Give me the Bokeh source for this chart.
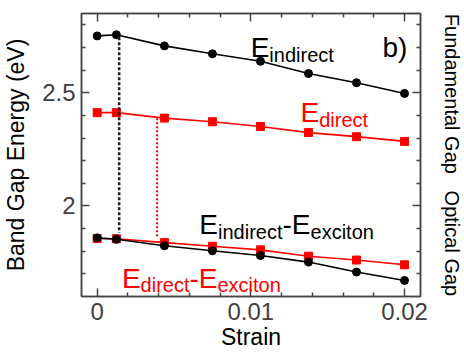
import math
from bokeh.plotting import figure
from bokeh.models import Range1d, LinearAxis, Label, FixedTicker
from bokeh.embed import file_html
from bokeh.resources import INLINE

# ---- data ----
strain = [0, 0.00125, 0.004375, 0.0075, 0.010625, 0.01375, 0.016875, 0.02]
e_indirect = [2.751, 2.756, 2.707, 2.672, 2.639, 2.585, 2.544, 2.497]
e_direct = [2.412, 2.412, 2.388, 2.372, 2.351, 2.324, 2.306, 2.285]
e_indirect_exc = [1.859, 1.853, 1.824, 1.802, 1.781, 1.752, 1.708, 1.671]
e_direct_exc = [1.856, 1.855, 1.838, 1.822, 1.806, 1.778, 1.761, 1.740]

dot_x = [0.00143, 0.0039]
dot_top = [2.745, 2.387]
dot_bottom = [1.882, 1.862]
dot_colors = ["#222222", "#ff0000"]

x_major = [0, 0.01, 0.02]
x_minor = [0.002, 0.004, 0.006, 0.008, 0.012, 0.014, 0.016, 0.018]
y_major = [2, 2.5]
y_minor = [1.7, 1.8, 1.9, 2.1, 2.2, 2.3, 2.4, 2.6, 2.7, 2.8]
x_labels = {0: "0", 0.01: "0.01", 0.02: "0.02"}
y_labels = {2: "2", 2.5: "2.5"}
right_titles = ["Fundamental Gap", "Optical Gap"]

FONT = "Liberation Sans"
AX = "#444444"

p = figure(width=464, height=356, frame_width=339, frame_height=283,
           output_backend="svg", toolbar_location=None,
           x_range=Range1d(-0.00102, 0.02104), y_range=Range1d(1.6, 2.85),
           min_border_left=79, min_border_right=46, min_border_top=13, min_border_bottom=60,
           x_axis_label="Strain", y_axis_label="Band Gap Energy (eV)")
p.grid.visible = False
p.outline_line_color = AX
p.outline_line_width = 1.5
p.background_fill_color = "white"
p.border_fill_color = "white"

def style_axis(ax, labels):
    ax.axis_line_color = AX
    ax.axis_line_width = 1.5
    ax.major_tick_line_color = AX
    ax.minor_tick_line_color = AX
    ax.major_tick_line_width = 1.5
    ax.minor_tick_line_width = 1.5
    ax.major_tick_in = 8
    ax.major_tick_out = 0
    ax.minor_tick_in = 4
    ax.minor_tick_out = 0
    ax.major_label_text_font = FONT
    ax.major_label_text_font_size = "24px"
    ax.major_label_text_color = "#404040"
    ax.axis_label_text_font = FONT
    ax.axis_label_text_font_size = "23px"
    ax.axis_label_text_font_style = "normal"
    ax.axis_label_text_color = "black"
    if labels is not None:
        ax.major_label_overrides = labels

p.xaxis.ticker = FixedTicker(ticks=x_major, minor_ticks=x_minor)
p.yaxis.ticker = FixedTicker(ticks=y_major, minor_ticks=y_minor)
for ax in p.xaxis:
    style_axis(ax, x_labels)
    ax.major_label_standoff = 6
    ax.axis_label_standoff = 1
for ax in p.yaxis:
    style_axis(ax, y_labels)
    ax.major_label_standoff = 6
    ax.axis_label_standoff = 10

top = LinearAxis(ticker=FixedTicker(ticks=x_major, minor_ticks=x_minor))
right = LinearAxis(ticker=FixedTicker(ticks=y_major, minor_ticks=y_minor),
                   axis_label=("\u00a0" * 3).join(right_titles))
for ax in (top, right):
    style_axis(ax, None)
    ax.major_label_text_font_size = "0px"
    ax.major_label_text_color = None
    ax.major_label_standoff = 0
right.axis_label_text_font_size = "20px"
right.axis_label_standoff = 20
p.add_layout(top, "above")
p.add_layout(right, "right")

# ---- series ----
p.line(strain, e_direct, line_color="#ff0000", line_width=1.6)
p.scatter(strain, e_direct, marker="square", size=8, fill_color="#ff0000", line_color="#ff0000")
p.line(strain, e_indirect, line_color="black", line_width=1.6)
p.scatter(strain, e_indirect, marker="circle", size=8, fill_color="black", line_color="black")
p.line(strain, e_direct_exc, line_color="#ff0000", line_width=1.6)
p.scatter(strain, e_direct_exc, marker="square", size=8, fill_color="#ff0000", line_color="#ff0000")
p.line(strain, e_indirect_exc, line_color="black", line_width=1.6)
p.scatter(strain, e_indirect_exc, marker="circle", size=8, fill_color="black", line_color="black")

p.segment(x0=[dot_x[0]], y0=[dot_top[0]], x1=[dot_x[0]], y1=[dot_bottom[0]],
          line_color=dot_colors[0], line_width=2.6, line_dash="3 2")
p.segment(x0=[dot_x[1]], y0=[dot_top[1]], x1=[dot_x[1]], y1=[dot_bottom[1]],
          line_color=dot_colors[1], line_width=2, line_dash="2 2")

# ---- rich labels ----
W = {'E': .667, 'i': .222, 'n': .556, 'd': .556, 'r': .333, 'e': .556, 'c': .5,
     't': .278, 'x': .5, 'o': .556, '-': .333}

def rich(x, y, parts, color):
    off = 0.0
    for txt, size, dy in parts:
        p.add_layout(Label(x=x, y=y, x_offset=off, y_offset=-dy, text=txt,
                           text_font=FONT, text_font_size=f"{size}px", text_color=color,
                           text_align="left", text_baseline="alphabetic"))
        off += sum(W[c] for c in txt) * size

BIG, SUB, DY = 28, 20, 7
rich(0.00999, 2.698, [("E", BIG, 0), ("indirect", SUB, DY)], "black")
rich(0.01323, 2.412, [("E", BIG, 0), ("direct", SUB, DY)], "#ff0000")
rich(0.00665, 1.918, [("E", BIG, 0), ("indirect", SUB, DY), ("-", BIG, 0),
                      ("E", BIG, 0), ("exciton", SUB, DY)], "black")
rich(0.00161, 1.680, [("E", BIG, 0), ("direct", SUB, DY), ("-", BIG, 0),
                      ("E", BIG, 0), ("exciton", SUB, DY)], "#ff0000")
p.add_layout(Label(x=0.01856, y=2.698, text="b)", text_font=FONT, text_font_size="28px",
                   text_color="black", text_baseline="alphabetic"))

open("out.html", "w").write(file_html(p, INLINE))
